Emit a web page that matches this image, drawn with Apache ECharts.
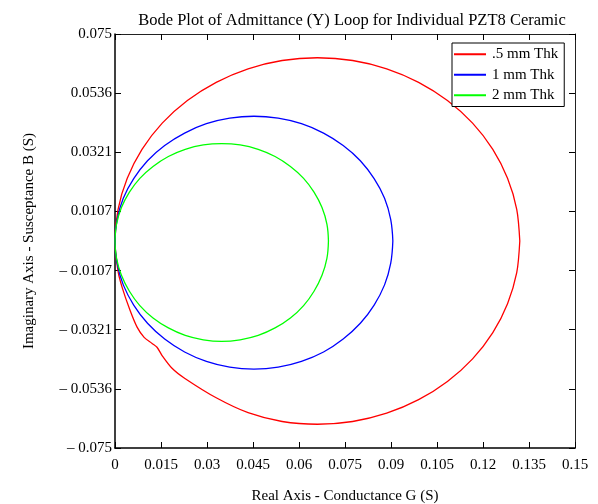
<!DOCTYPE html>
<html>
<head>
<meta charset="utf-8">
<script src="https://cdn.jsdelivr.net/npm/echarts@6/dist/echarts.min.js"></script>
<style>html,body{margin:0;padding:0;background:#fff;}#c{width:598px;height:504px;}</style>
</head>
<body>
<div id="c"></div>
<script>
// .5 mm Thk loop (Conductance G, Susceptance B)
var halfThkG = [0.1320,0.1310,0.1280,0.1232,0.1166,0.1084,0.0990,0.0886,0.0775,0.0660,0.0545,0.0434,0.0330,0.0236,0.0154,0.0088,0.0040,0.0010,0.0000,
                0.0010,0.0023,0.0049,0.0072,0.0095,0.0121,0.0137,0.0153,0.0186,0.0228,0.0330,0.0434,0.0545,0.0660,0.0775,0.0886,0.0990,0.1084,0.1166,0.1232,0.1280,0.1310,0.1320];
var halfThkB = [0,0.0115,0.0227,0.0332,0.0427,0.0509,0.0575,0.0624,0.0654,0.0664,0.0654,0.0624,0.0575,0.0509,0.0427,0.0332,0.0227,0.0115,0,
                -0.0110,-0.0167,-0.0251,-0.0312,-0.0349,-0.0371,-0.0385,-0.0414,-0.0461,-0.0498,-0.0568,-0.0622,-0.0654,-0.0664,-0.0654,-0.0624,-0.0575,-0.0509,-0.0427,-0.0332,-0.0227,-0.0115,0];
// 1 mm Thk loop
var oneThkG = [0.0906,0.0899,0.0879,0.0845,0.0800,0.0744,0.0680,0.0608,0.0532,0.0453,0.0374,0.0298,0.0227,0.0162,0.0106,0.0061,0.0027,0.0007,0,
               0.0007,0.0027,0.0061,0.0106,0.0162,0.0227,0.0298,0.0374,0.0453,0.0532,0.0608,0.0680,0.0744,0.0800,0.0845,0.0879,0.0899,0.0906];
var oneThkB = [0,0.0078,0.0155,0.0226,0.0291,0.0346,0.0391,0.0425,0.0445,0.0452,0.0445,0.0425,0.0391,0.0346,0.0291,0.0226,0.0155,0.0078,0,
               -0.0081,-0.0159,-0.0232,-0.0298,-0.0355,-0.0402,-0.0436,-0.0457,-0.0464,-0.0457,-0.0436,-0.0402,-0.0355,-0.0298,-0.0232,-0.0159,-0.0081,0];
// 2 mm Thk loop
var twoThkG = [0.0696,0.0691,0.0675,0.0649,0.0615,0.0572,0.0522,0.0467,0.0408,0.0348,0.0288,0.0229,0.0174,0.0124,0.0081,0.0047,0.0021,0.0005,0,
               0.0005,0.0021,0.0047,0.0081,0.0124,0.0174,0.0229,0.0288,0.0348,0.0408,0.0467,0.0522,0.0572,0.0615,0.0649,0.0675,0.0691,0.0696];
var twoThkB = [0,0.0061,0.0121,0.0177,0.0227,0.0270,0.0306,0.0332,0.0348,0.0353,0.0348,0.0332,0.0306,0.0270,0.0227,0.0177,0.0121,0.0061,0,
               -0.0063,-0.0124,-0.0182,-0.0234,-0.0279,-0.0315,-0.0342,-0.0358,-0.0364,-0.0358,-0.0342,-0.0315,-0.0279,-0.0234,-0.0182,-0.0124,-0.0063,0];

var seriesNames = ['.5 mm Thk', '1 mm Thk', '2 mm Thk'];
var xTickLabels = ['0','0.015','0.03','0.045','0.06','0.075','0.09','0.105','0.12','0.135','0.15'];
var yTickLabels = ['\u2013 0.075','\u2013 0.0536','\u2013 0.0321','\u2013 0.0107','0.0107','0.0321','0.0536','0.075'];

function zip(a, b) { return a.map(function (v, i) { return [v, b[i]]; }); }

var FONT = '"Liberation Serif", "DejaVu Serif", serif';
var xMin = 0, xMax = 0.15, xInt = 0.015;
var yMin = -0.075, yMax = 0.075, yInt = 0.15 / 7;

var chart = echarts.init(document.getElementById('c'), null, {renderer: 'canvas'});
var tickStyle = {show: true, inside: true, length: 6, lineStyle: {color: '#000', width: 1}};
var lineStyle = {show: true, onZero: false, lineStyle: {color: '#000', width: 1.5}};
var colors = ['#ff0000', '#0000ff', '#00ff00'];

chart.setOption({
  backgroundColor: '#fff',
  animation: false,
  title: {
    text: 'Bode Plot of Admittance (Y) Loop for Individual PZT8 Ceramic',
    left: 347, textAlign: 'center', top: 7,
    textStyle: {fontFamily: FONT, fontSize: 16.5, fontWeight: 'normal', color: '#000'}
  },
  legend: {
    data: seriesNames,
    orient: 'vertical',
    left: 452, top: 43,
    padding: [3, 6, 3, 2],
    itemGap: 4,
    itemWidth: 32, itemHeight: 2,
    icon: 'rect',
    borderColor: '#000', borderWidth: 1,
    backgroundColor: '#fff',
    textStyle: {fontFamily: FONT, fontSize: 15, color: '#000', lineHeight: 16.5, padding: [0, 0, 0, 1]}
  },
  grid: {left: 115, right: 23, top: 34, bottom: 56, containLabel: false, outerBoundsMode: 'none'},
  xAxis: [{
    type: 'value', min: xMin, max: xMax, interval: xInt,
    name: 'Real Axis - Conductance G (S)', nameLocation: 'middle', nameGap: 41,
    nameTextStyle: {fontFamily: FONT, fontSize: 15, color: '#000'},
    axisLine: lineStyle, axisTick: tickStyle, splitLine: {show: false},
    axisLabel: {fontFamily: FONT, fontSize: 15, color: '#000', margin: 10,
      formatter: function (v) { return xTickLabels[Math.round((v - xMin) / xInt)]; }}
  }, {
    type: 'value', min: xMin, max: xMax, interval: xInt, position: 'top',
    axisLine: {show: true, onZero: false, lineStyle: {color: '#222', width: 1}},
    axisTick: tickStyle, axisLabel: {show: false}, splitLine: {show: false}
  }],
  yAxis: [{
    type: 'value', min: yMin, max: yMax, interval: yInt,
    name: 'Imaginary Axis - Susceptance B (S)', nameLocation: 'middle', nameGap: 78,
    nameTextStyle: {fontFamily: FONT, fontSize: 15, color: '#000'},
    axisLine: lineStyle, axisTick: tickStyle, splitLine: {show: false},
    axisLabel: {fontFamily: FONT, fontSize: 15, color: '#000', margin: 3,
      formatter: function (v) { return yTickLabels[Math.round((v - yMin) / yInt)]; }}
  }, {
    type: 'value', min: yMin, max: yMax, interval: yInt, position: 'right',
    axisLine: {show: true, onZero: false, lineStyle: {color: '#222', width: 1}},
    axisTick: tickStyle, axisLabel: {show: false}, splitLine: {show: false}
  }],
  series: [
    {name: seriesNames[0], type: 'line', data: zip(halfThkG, halfThkB), smooth: 0.3, showSymbol: false, symbol: 'none',
     color: colors[0], lineStyle: {color: colors[0], width: 1.3}},
    {name: seriesNames[1], type: 'line', data: zip(oneThkG, oneThkB), smooth: 0.4, showSymbol: false, symbol: 'none',
     color: colors[1], lineStyle: {color: colors[1], width: 1.3}},
    {name: seriesNames[2], type: 'line', data: zip(twoThkG, twoThkB), smooth: 0.4, showSymbol: false, symbol: 'none',
     color: colors[2], lineStyle: {color: colors[2], width: 1.3}}
  ]
});
</script>
</body>
</html>
